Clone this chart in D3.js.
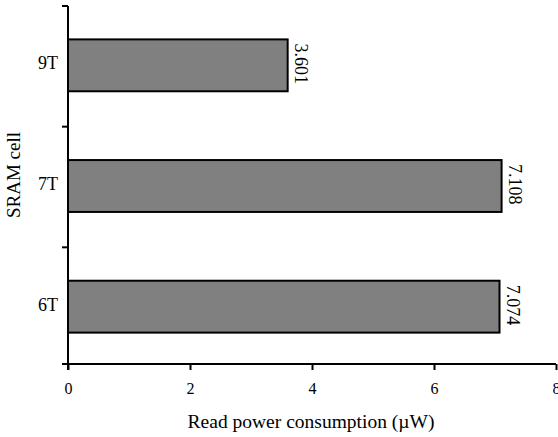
<!DOCTYPE html>
<html>
<head>
<meta charset="utf-8">
<script src="https://cdn.jsdelivr.net/npm/d3@7"></script>
<style>
  body { margin: 0; background: #fff; }
  text { font-family: "Liberation Serif", "Times New Roman", serif; fill: #000; }
</style>
</head>
<body>
<svg id="chart" width="558" height="437"></svg>
<script>
const cells = ["9T", "7T", "6T"];
const readPower = [3.601, 7.108, 7.074];
const xTicks = [0, 2, 4, 6, 8];

const mLeft = 68, mRight = 556, mTop = 5, mBottom = 367, axisY = 364;

let svg = d3.select("#chart");

const x = d3.scaleLinear().domain([0, 8]).range([mLeft, mRight]);
const y = d3.scaleBand().domain(cells).range([mTop, mBottom]).paddingInner(0.57).paddingOuter(0.285);
const yEdges = d3.scaleLinear().domain([0, cells.length]).range([mTop, mBottom]);

// bars
svg.append("g")
  .selectAll("rect")
  .data(cells)
  .join("rect")
  .attr("x", x(0))
  .attr("y", d => y(d))
  .attr("width", (d, i) => x(readPower[i]) - x(0))
  .attr("height", y.bandwidth())
  .attr("fill", "#808080")
  .attr("stroke", "#000")
  .attr("stroke-width", 2);

// value labels, rotated
svg.append("g")
  .selectAll("text")
  .data(cells)
  .join("text")
  .attr("transform", (d, i) => `translate(${x(readPower[i]) + 7},${y(d) + 4}) rotate(90)`)
  .attr("font-size", 18)
  .attr("text-anchor", "start")
  .text((d, i) => readPower[i].toFixed(3));

// x axis
const xAxis = svg.append("g")
  .attr("transform", `translate(0,${axisY})`)
  .call(d3.axisBottom(x).tickValues(xTicks).tickSize(6).tickPadding(13).tickFormat(d3.format("d")));
xAxis.select(".domain").remove();
xAxis.append("line")
  .attr("x1", mLeft - 6).attr("x2", mRight).attr("y1", 0).attr("y2", 0)
  .attr("stroke", "#000").attr("stroke-width", 2);
xAxis.selectAll(".tick line").attr("stroke-width", 2);
xAxis.selectAll(".tick text").attr("font-size", 16).attr("font-family", "Liberation Serif");

// y axis
const yAxis = svg.append("g").attr("transform", `translate(${mLeft},0)`);
yAxis.append("line")
  .attr("x1", 0).attr("x2", 0).attr("y1", mTop + 1).attr("y2", axisY + 6)
  .attr("stroke", "#000").attr("stroke-width", 2);
yAxis.selectAll(".edge")
  .data(d3.range(cells.length))
  .join("line")
  .attr("class", "edge")
  .attr("x1", -6).attr("x2", 0)
  .attr("y1", d => yEdges(d) + 1).attr("y2", d => yEdges(d) + 1)
  .attr("stroke", "#000").attr("stroke-width", 2);
yAxis.selectAll("text")
  .data(cells)
  .join("text")
  .attr("x", -10)
  .attr("y", d => y(d) + y.bandwidth() / 2 + 4)
  .attr("text-anchor", "end")
  .attr("font-size", 18)
  .text(d => d);

// axis titles
svg.append("text")
  .attr("x", 311)
  .attr("y", 428)
  .attr("text-anchor", "middle")
  .attr("font-size", 19.5)
  .text("Read power consumption (\u00b5W)");

svg.append("text")
  .attr("transform", `translate(20,175) rotate(-90)`)
  .attr("text-anchor", "middle")
  .attr("font-size", 19)
  .text("SRAM cell");
</script>
</body>
</html>
